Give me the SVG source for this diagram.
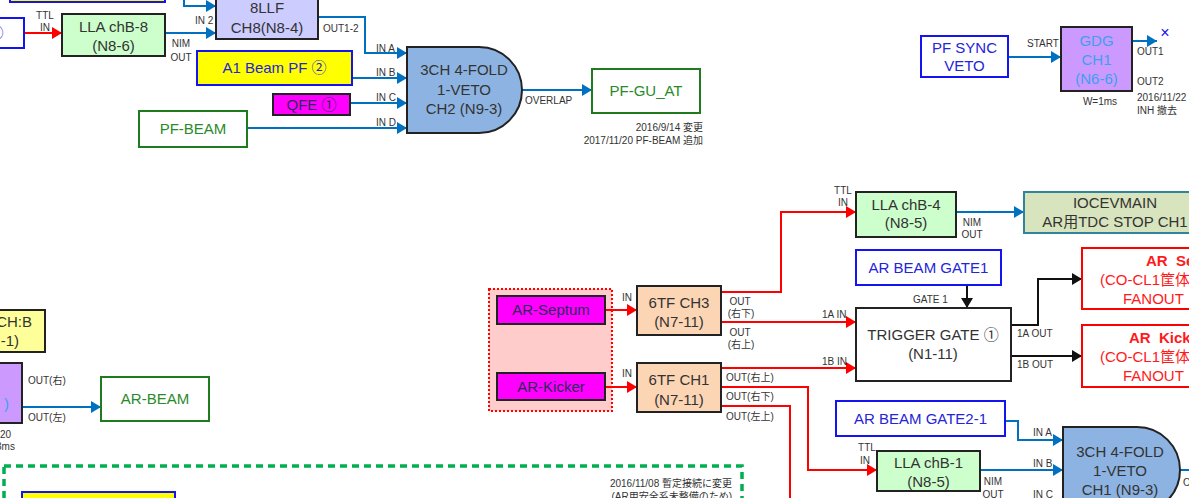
<svg xmlns="http://www.w3.org/2000/svg" width="1189" height="498" viewBox="0 0 1189 498">
<style>
text{font-family:"Liberation Sans","Noto Sans CJK JP",sans-serif;}
.n{font-size:15px;fill:#333;text-anchor:middle;}
.nb{font-size:15px;fill:#2424d8;text-anchor:middle;}
.ng{font-size:15px;fill:#2a8a2a;text-anchor:middle;}
.nl{font-size:15px;fill:#3ea0f0;text-anchor:middle;}
.nr{font-size:15px;fill:#ff1a1a;white-space:pre;}
.s{font-size:10px;fill:#333;}
.m{text-anchor:middle;}
.e{text-anchor:end;}
.bk{fill:#fff;stroke:#222;stroke-width:2;}
.lla{fill:#ccffcc;stroke:#222;stroke-width:2;}
.tf{fill:#fcd5b4;stroke:#222;stroke-width:2;}
.mg{fill:#ff00ff;stroke:#222;stroke-width:2;}
.pu{fill:#cc99ff;stroke:#222;stroke-width:2;}
.bl{fill:#fff;stroke:#1414f0;stroke-width:2;}
.gr{fill:#fff;stroke:#1e7b1e;stroke-width:2;}
.rd{fill:#fff;stroke:#ff0000;stroke-width:2;}
.gate{fill:#8db3e2;stroke:#222;stroke-width:2;}
.cb{fill:none;stroke:#0070c0;stroke-width:2;marker-end:url(#ab);}
.cbn{fill:none;stroke:#0070c0;stroke-width:2;}
.cr{fill:none;stroke:#ff0000;stroke-width:2;marker-end:url(#ar);}
.crn{fill:none;stroke:#ff0000;stroke-width:2;}
.ck{fill:none;stroke:#111;stroke-width:2;marker-end:url(#ak);}
</style>
<defs>
<marker id="ab" viewBox="0 0 10 12" refX="10" refY="6" markerWidth="10" markerHeight="12" markerUnits="userSpaceOnUse" orient="auto"><path d="M0,0 L10,6 L0,12 z" fill="#0070c0"/></marker>
<marker id="ar" viewBox="0 0 10 12" refX="10" refY="6" markerWidth="10" markerHeight="12" markerUnits="userSpaceOnUse" orient="auto"><path d="M0,0 L10,6 L0,12 z" fill="#ff0000"/></marker>
<marker id="ak" viewBox="0 0 10 12" refX="10" refY="6" markerWidth="10" markerHeight="12" markerUnits="userSpaceOnUse" orient="auto"><path d="M0,0 L10,6 L0,12 z" fill="#111"/></marker>
</defs>
<rect x="0" y="0" width="1189" height="498" fill="#fff"/>

<!-- region shapes -->
<rect x="4" y="466" width="738" height="100" fill="none" stroke="#00b050" stroke-width="3.5" stroke-dasharray="7 5"/>
<rect x="489" y="289" width="123" height="122" fill="#ffcccc" stroke="#ff0000" stroke-width="2" stroke-dasharray="2 2"/>

<g id="connectors">
<path class="cr" d="M24,33 H62"/>
<path class="cb" d="M184,0 V6 H216"/>
<path class="cb" d="M165,33 H216"/>
<path class="cb" d="M318,17 H365 V53 H407"/>
<path class="cb" d="M352,78 H407"/>
<path class="cb" d="M350,103 H407"/>
<path class="cb" d="M247,128 H407"/>
<path class="cb" d="M522,90 H592"/>
<path class="cb" d="M1008,57 H1061"/>
<path class="cb" d="M1132,41 H1157"/>
<path class="cb" d="M22,407 H101"/>
<path class="cr" d="M605,310 H637"/>
<path class="cr" d="M605,387 H637"/>
<path class="cr" d="M721,292 H781 V212 H856"/>
<path class="cr" d="M721,322 H856"/>
<path class="cr" d="M721,368 H856"/>
<path class="cr" d="M721,387 H808 V470 H877"/>
<path class="crn" d="M721,406 H790 V498"/>
<path class="cb" d="M956,212 H1024"/>
<path class="ck" d="M967,285 V308"/>
<path class="ck" d="M1011,325 H1038 V279 H1082"/>
<path class="ck" d="M1011,356 H1082"/>
<path class="cb" d="M1005,421 H1018 V440 H1063"/>
<path class="cb" d="M980,470 H1063"/>
<path class="cbn" d="M1180,470 H1189"/>
</g>

<g id="n-partial-left-top"><rect class="bl" x="-10" y="18" width="34" height="30"/><text class="nb" x="-4" y="38">①</text></g>
<g id="n-yellow-top"><rect x="10" y="-20" width="155" height="22" fill="#ffff00" stroke="#1414f0" stroke-width="2"/></g>
<g id="n-lla-b8"><rect class="lla" x="62" y="14" width="103" height="42"/><text class="n" x="113.5" y="32">LLA chB-8</text><text class="n" x="113.5" y="51">(N8-6)</text></g>
<g id="n-8llf"><rect x="216" y="-20" width="102" height="59" fill="#ccccff" stroke="#222" stroke-width="2"/><text class="n" x="267" y="13">8LLF</text><text class="n" x="267" y="33">CH8(N8-4)</text></g>
<g id="n-a1beam"><rect x="197" y="51" width="155" height="34" fill="#ffff00" stroke="#1414f0" stroke-width="2"/><text class="nb" x="274.5" y="73">A1 Beam PF ②</text></g>
<g id="n-qfe"><rect class="mg" x="273" y="94" width="77" height="21"/><text class="n" x="311.5" y="109.5" style="fill:#2a2a5a">QFE ①</text></g>
<g id="n-pfbeam"><rect class="gr" x="139" y="111" width="108" height="36"/><text class="ng" x="193" y="134">PF-BEAM</text></g>
<g id="n-gate-ch2"><path class="gate" d="M407,47 H479 A43,43 0 0 1 479,133 H407 Z"/><text class="n" x="464" y="75">3CH 4-FOLD</text><text class="n" x="464" y="95">1-VETO</text><text class="n" x="464" y="114">CH2 (N9-3)</text></g>
<g id="n-pfguat"><rect class="gr" x="592" y="69" width="108" height="44"/><text class="ng" x="646" y="96">PF-GU_AT</text></g>
<g id="n-pfsync"><rect class="bl" x="921" y="36" width="87" height="41"/><text class="nb" x="964.5" y="53">PF SYNC</text><text class="nb" x="964.5" y="71">VETO</text></g>
<g id="n-gdg"><rect class="pu" x="1061" y="27" width="71" height="64"/><text class="nl" x="1096.5" y="46">GDG</text><text class="nl" x="1096.5" y="65">CH1</text><text class="nl" x="1096.5" y="84">(N6-6)</text></g>
<g id="n-x"><text x="1165" y="38" style="font-size:16px;fill:#1414f0;text-anchor:middle">×</text></g>
<g id="n-chb-left"><rect x="-20" y="310" width="65" height="42" fill="#ffff99" stroke="#222" stroke-width="2"/><text class="n e" x="32" y="327" style="text-anchor:end">CH:B</text><text class="n" x="19" y="346" style="text-anchor:end">-1)</text></g>
<g id="n-purple-left"><rect class="pu" x="-20" y="363" width="42" height="60"/><text class="nl" x="9" y="409" style="text-anchor:end">)</text></g>
<g id="n-arbeam"><rect class="gr" x="101" y="377" width="108" height="44"/><text class="ng" x="155" y="404">AR-BEAM</text></g>
<g id="n-yellow-bottom"><rect x="22" y="492" width="153" height="20" fill="#ffff00" stroke="#1414f0" stroke-width="2"/></g>
<g id="n-arseptum"><rect class="mg" x="497" y="296" width="108" height="28"/><text class="n" x="551" y="315" style="fill:#2a2a5a">AR-Septum</text></g>
<g id="n-arkicker"><rect class="mg" x="497" y="373" width="108" height="27"/><text class="n" x="551" y="392" style="fill:#2a2a5a">AR-Kicker</text></g>
<g id="n-6tf-ch3"><rect class="tf" x="637" y="286" width="84" height="49"/><text class="n" x="679" y="308">6TF CH3</text><text class="n" x="679" y="327">(N7-11)</text></g>
<g id="n-6tf-ch1"><rect class="tf" x="637" y="363" width="84" height="49"/><text class="n" x="679" y="385">6TF CH1</text><text class="n" x="679" y="405">(N7-11)</text></g>
<g id="n-lla-b4"><rect class="lla" x="856" y="192" width="100" height="45"/><text class="n" x="906" y="210">LLA chB-4</text><text class="n" x="906" y="228">(N8-5)</text></g>
<g id="n-iocevmain"><rect x="1024" y="192" width="190" height="41" fill="#d7e4bd" stroke="#31849b" stroke-width="2"/><text class="n" x="1115" y="208">IOCEVMAIN</text><text class="n" x="1115" y="227">AR用TDC STOP CH1</text></g>
<g id="n-arbeamgate1"><rect class="bl" x="856" y="250" width="145" height="35"/><text class="nb" x="928.5" y="273">AR BEAM GATE1</text></g>
<g id="n-triggergate"><rect class="bk" x="856" y="308" width="155" height="73"/><text class="n" x="933" y="340">TRIGGER GATE ①</text><text class="n" x="933" y="359">(N1-11)</text></g>
<g id="n-ar-se"><rect class="rd" x="1082" y="248" width="130" height="61"/><text class="nr" x="1146" y="266" style="font-weight:bold">AR  Se</text><text class="nr" x="1100" y="285">(CO-CL1筐体</text><text class="nr" x="1123" y="304">FANOUT</text></g>
<g id="n-ar-kick"><rect class="rd" x="1082" y="325" width="130" height="62"/><text class="nr" x="1129" y="343" style="font-weight:bold">AR  Kick</text><text class="nr" x="1100" y="362">(CO-CL1筐体</text><text class="nr" x="1123" y="381">FANOUT</text></g>
<g id="n-arbeamgate2"><rect class="bl" x="836" y="401" width="169" height="35"/><text class="nb" x="920.5" y="424">AR BEAM GATE2-1</text></g>
<g id="n-lla-b1"><rect class="lla" x="877" y="451" width="103" height="40"/><text class="n" x="928.5" y="468">LLA chB-1</text><text class="n" x="928.5" y="487">(N8-5)</text></g>
<g id="n-gate-ch1"><path class="gate" d="M1063,427 H1137 A43,43 0 0 1 1137,513 H1063 Z"/><text class="n" x="1120" y="457">3CH 4-FOLD</text><text class="n" x="1120" y="476">1-VETO</text><text class="n" x="1120" y="495">CH1 (N9-3)</text></g>

<g id="labels">
<text class="s m" x="45" y="18.5">TTL</text><text class="s m" x="45" y="30.5">IN</text>
<text class="s m" x="181" y="46.5">NIM</text><text class="s m" x="181" y="60.5">OUT</text>
<text class="s" x="195" y="23.5">IN 2</text>
<text class="s" x="323" y="31.5">OUT1-2</text>
<text class="s" x="376" y="51.5">IN A</text><text class="s" x="376" y="75.5">IN B</text><text class="s" x="376" y="100.5">IN C</text><text class="s" x="376" y="125.5">IN D</text>
<text class="s" x="525" y="103.5">OVERLAP</text>
<text class="s e" x="703" y="130.5">2016/9/14 変更</text>
<text class="s e" x="703" y="143.5">2017/11/20 PF-BEAM 追加</text>
<text class="s" x="1027" y="46.5">START</text>
<text class="s" x="1137" y="54.5">OUT1</text><text class="s" x="1137" y="84.5">OUT2</text>
<text class="s m" x="1100" y="104.5">W=1ms</text>
<text class="s" x="1137" y="100.5">2016/11/22</text><text class="s" x="1137" y="113.5">INH 撤去</text>
<text class="s" x="28" y="383.5">OUT(右)</text><text class="s" x="28" y="420.5">OUT(左)</text>
<text class="s" x="0" y="437.5">20</text><text class="s" x="-4" y="449.5">3ms</text>
<text class="s m" x="627" y="300.5">IN</text><text class="s m" x="627" y="376.5">IN</text>
<text class="s m" x="740" y="304.5">OUT</text><text class="s m" x="741" y="316.5">(右下)</text>
<text class="s m" x="740" y="335.5">OUT</text><text class="s m" x="741" y="347.5">(右上)</text>
<text class="s" x="822" y="317.5">1A IN</text><text class="s" x="822" y="364.5">1B IN</text>
<text class="s" x="726" y="380.5">OUT(右上)</text><text class="s" x="726" y="399.5">OUT(右下)</text><text class="s" x="726" y="419.5">OUT(左上)</text>
<text class="s m" x="843" y="193.5">TTL</text><text class="s m" x="843" y="205.5">IN</text>
<text class="s m" x="972" y="225.5">NIM</text><text class="s m" x="972" y="237.5">OUT</text>
<text class="s" x="913" y="302.5">GATE 1</text>
<text class="s" x="1017" y="336.5">1A OUT</text><text class="s" x="1017" y="367.5">1B OUT</text>
<text class="s" x="1033" y="435.5">IN A</text><text class="s" x="1033" y="466.5">IN B</text><text class="s" x="1033" y="498">IN C</text>
<text class="s m" x="867" y="450.5">TTL</text><text class="s m" x="865" y="463.5">IN</text>
<text class="s m" x="993" y="484.5">NIM</text><text class="s m" x="993" y="497.5">OUT</text>
<text class="s" x="1183" y="485.5">OVERLAP</text>
<text class="s e" x="732" y="486.5">2016/11/08 暫定接続に変更</text>
<text class="s e" x="732" y="499.5">(AR用安全系未整備のため)</text>
</g>
</svg>
